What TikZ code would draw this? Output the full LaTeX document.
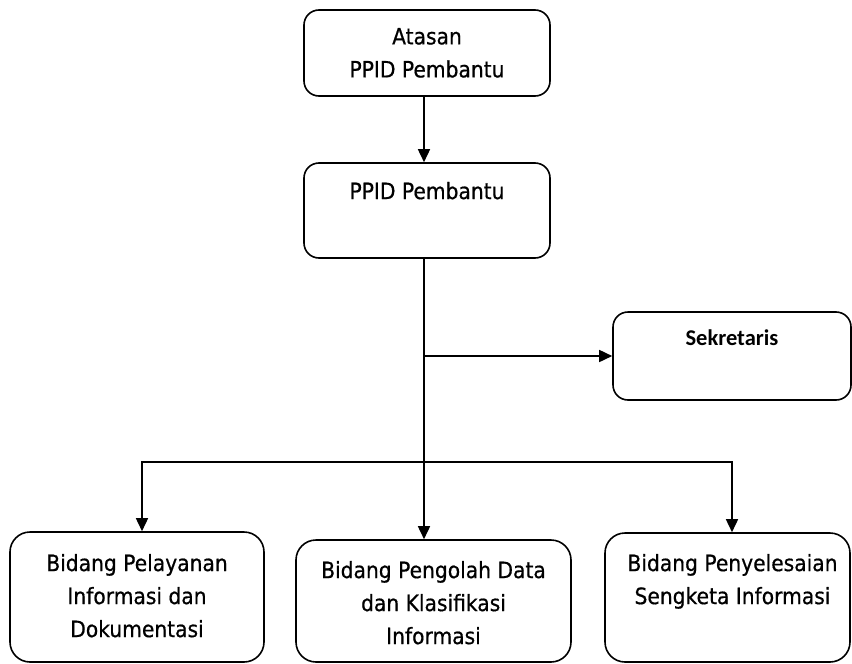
\documentclass[tikz,border=0pt]{standalone}
\usepackage{fontspec}
\setmainfont{DejaVu Sans}[FakeStretch=0.9, FakeBold=0.6]
\newfontfamily\sekfont{Carlito}
\usetikzlibrary{positioning, arrows.meta}

\begin{document}
\begin{tikzpicture}[x=1pt, y=-1pt, line width=1.6pt,
  box/.style={draw, rounded corners=15pt, inner sep=0pt},
  lbl/.style={anchor=north, align=center, inner sep=0pt, font=\fontsize{22.5}{33}\selectfont},
  arr/.style={-{Triangle[length=13pt, width=12pt]}}]
\useasboundingbox (0,0) rectangle (852,664);

\node[box, minimum width=246pt, minimum height=86pt] at (427,53) (atasan) {};
\node[box, minimum width=246pt, minimum height=95pt] at (427,210.5) (ppid) {};
\node[box, minimum width=238pt, minimum height=88pt] at (732,356) (sek) {};
\node[box, rounded corners=20pt, minimum width=254pt, minimum height=130pt] at (137,597) (bleft) {};
\node[box, rounded corners=20pt, minimum width=275pt, minimum height=122pt] at (433.5,601) (bmid) {};
\node[box, rounded corners=20pt, minimum width=245pt, minimum height=129pt] at (727.5,597.5) (bright) {};

\node[lbl] at ([yshift=-18pt]atasan.north) (atasanT) {Atasan\\PPID Pembantu};
\node[lbl] at ([yshift=-19pt]ppid.north) (ppidT) {PPID Pembantu};
\node[lbl, font=\sekfont\bfseries\fontsize{22.5}{33}\selectfont] at ([yshift=-18pt]sek.north) (sekT) {Sekretaris};
\node[lbl] at ([yshift=-22pt]bleft.north) (bleftT) {Bidang Pelayanan\\Informasi dan\\Dokumentasi};
\node[lbl] at ([yshift=-21pt]bmid.north) (bmidT) {Bidang Pengolah Data\\dan Klasifikasi\\Informasi};
\node[lbl] at ([xshift=5pt, yshift=-21pt]bright.north) (brightT) {Bidang Penyelesaian\\Sengketa Informasi};

\coordinate (split) at (424,462);
\coordinate (jl) at (142,462);
\coordinate (jr) at (732,462);

\draw[arr] (atasan.south -| split) -- (ppid.north -| split);
\draw[arr] (ppid.south -| split) -- (split |- bmid.north);
\draw[arr] (sek.west -| split) -- (sek.west);
\draw[arr] (jr) -| (jl |- bleft.north);
\draw[arr] (jl) -| (jr |- bright.north);
\end{tikzpicture}
\end{document}
